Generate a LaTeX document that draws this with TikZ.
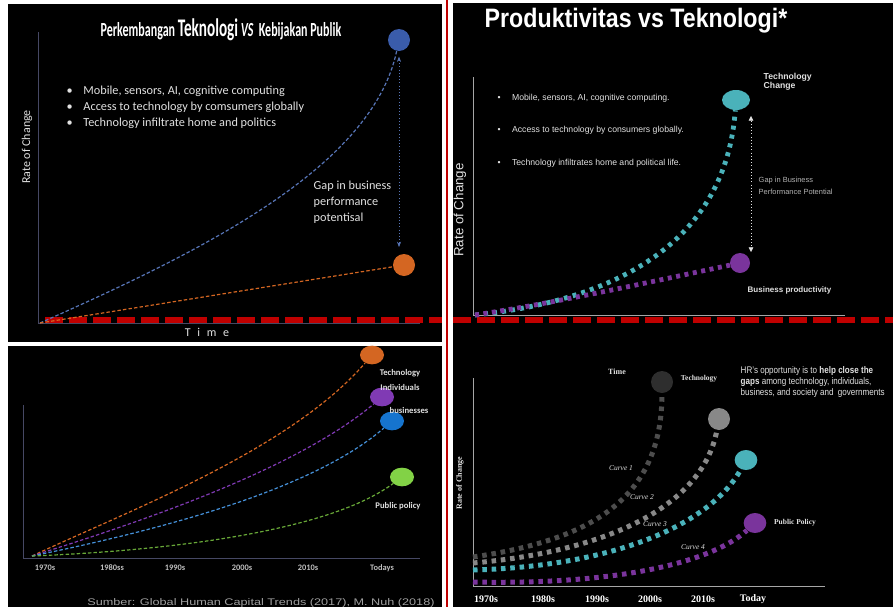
\documentclass[tikz,border=0pt]{standalone}
\usepackage{fontspec}
\setmainfont{Liberation Sans}
\newfontfamily\calfont{Carlito}
\newfontfamily\timesfont{Liberation Serif}
\usetikzlibrary{arrows.meta,shapes.geometric}
\definecolor{Red_line}{RGB}{192, 0, 0}
\definecolor{Axis_line}{RGB}{70, 72, 100}
\definecolor{Text_light}{RGB}{225, 225, 225}
\definecolor{Tech_blue}{RGB}{58, 92, 170}
\definecolor{Policy_orange}{RGB}{212, 102, 34}
\definecolor{Tech_teal}{RGB}{74, 178, 186}
\definecolor{Prod_purple}{RGB}{122, 52, 156}
\definecolor{Ind_purple}{RGB}{128, 58, 180}
\definecolor{Bus_blue}{RGB}{22, 116, 206}
\definecolor{Pol_green}{RGB}{130, 210, 70}
\definecolor{Curve_dark}{RGB}{46, 46, 46}
\definecolor{Curve_gray}{RGB}{136, 136, 136}

\tikzset{
  dot/.style={circle, inner sep=0pt, minimum size=16.5pt},
  oval/.style={ellipse, inner sep=0pt, minimum width=18pt, minimum height=14pt},
  thin dash/.style={line width=0.9pt, dash pattern=on 2.6pt off 1.6pt},
  square dots/.style={line width=3.75pt, dash pattern=on 3.4pt off 3.6pt},
}

\begin{document}
\begin{tikzpicture}[x=0.75pt, y=-0.75pt]
    \useasboundingbox (0,0) rectangle (893,607);
    \clip (0,0) rectangle (893,607);

    %% Background
    \fill[black] (8,4) rectangle (442,342);
    \fill[black] (8,346) rectangle (442,607);
    \fill[black] (453,3) rectangle (893,607);

    %% Separators
    \draw[Red_line, line width=1.6pt] (447,0) -- (447,607);
    \draw[Red_line, line width=4.5pt, dash pattern=on 13.5pt off 4.5pt] (45,320) -- (442,320);
    \draw[Red_line, line width=4.5pt, dash pattern=on 13.5pt off 4.5pt] (453,320) -- (893,320);

    %% Top left: Perkembangan Teknologi VS Kebijakan Publik
    \node[text=white] (title_tl) at (221,30)
      {\calfont\bfseries\scalebox{0.6}[1]{\fontsize{15}{15}\selectfont Perkembangan {\fontsize{19}{19}\selectfont Teknologi} \itshape VS\upshape\ \ Kebijakan Publik}};
    \draw[Axis_line] (38,32) -- (38,323) -- (420,323);
    \node[rotate=90, text=Text_light, font=\calfont\fontsize{9}{9}\selectfont] (rate_tl) at (27,147) {Rate of Change};
    \node[text=Text_light, font=\calfont\fontsize{9}{9}\selectfont] (time_tl) at (207,332) {T\hspace{5pt}i\hspace{5pt}m\hspace{5pt}e};
    \node[anchor=west, align=left, text=Text_light, font=\calfont\fontsize{9.2}{12}\selectfont] (list_tl) at (62,107)
      {\textbullet\hspace{8pt}Mobile, sensors, AI, cognitive computing\\
       \textbullet\hspace{8pt}Access to technology by comsumers globally\\
       \textbullet\hspace{8pt}Technology infiltrate home and politics};
    \node[anchor=west, align=left, text=Text_light, font=\calfont\fontsize{9.2}{12}\selectfont] (gap_tl) at (309,202)
      {Gap in business\\performance\\potentisal};

    \coordinate (o_tl) at (40,323);
    \node[dot, fill=Tech_blue] (tech_tl) at (399,40) {};
    \node[dot, fill=Policy_orange] (pol_tl) at (404,265) {};
    \draw[Tech_blue!85!white, thin dash] (o_tl) .. controls (200,252) and (372,168) .. (tech_tl);
    \draw[Policy_orange, thin dash] (o_tl) -- (pol_tl);
    \draw[Tech_blue!85!white, dotted, {Stealth[length=4pt,width=3pt]}-{Stealth[length=4pt,width=3pt]}]
      ([yshift=-4pt]tech_tl.south) -- ([yshift=5pt]tech_tl.south |- pol_tl.north);

    %% Top right: Produktivitas vs Teknologi*
    \node[text=white] (title_tr) at (636,21)
      {\bfseries\scalebox{0.87}[1]{\fontsize{20}{20}\selectfont Produktivitas vs Teknologi*}};
    \draw[gray!70] (473,77) -- (473,315) -- (845,315);
    \node[rotate=90, text=Text_light, font=\fontsize{10}{10}\selectfont] (rate_tr) at (460,210) {Rate of Change};
    \foreach \y/\txt [count=\i] in {98/{Mobile, sensors, AI, cognitive computing.},
        130/{Access to technology by consumers globally.},
        163/{Technology infiltrates home and political life.}}
      \node[anchor=west, text=Text_light, font=\fontsize{6.5}{6.5}\selectfont] (item_tr\i) at (493,\y)
        {\textbullet\hspace{8.5pt}\txt};

    \coordinate (o_tr) at (475,315);
    \node[ellipse, inner sep=0pt, minimum width=21pt, minimum height=15pt, fill=Tech_teal] (tech_tr) at (736,100) {};
    \node[dot, minimum size=15pt, fill=Prod_purple] (prod_tr) at (740,263) {};
    \draw[Tech_teal, line width=3.6pt, dash pattern=on 3pt off 3.8pt] (o_tr) .. controls (620,300) and (726,240) .. (tech_tr);
    \draw[Prod_purple, line width=3.6pt, dash pattern=on 3pt off 3.4pt] (o_tr) .. controls (560,302) and (650,282) .. (prod_tr);
    \node[anchor=west, align=left, text=Text_light, font=\bfseries\fontsize{6.5}{6.6}\selectfont] (techlbl_tr) at (759,82)
      {Technology\\Change};
    \node[anchor=west, text=Text_light, font=\bfseries\fontsize{6}{6}\selectfont] (prodlbl_tr) at (743,290) {Business productivity};
    \coordinate (gaptop_tr) at (751,116);
    \coordinate (gapbot_tr) at (751,252);
    \draw[Text_light, dotted, {Triangle[length=3.5pt,width=3.5pt]}-{Triangle[length=3.5pt,width=3.5pt]}] (gaptop_tr) -- (gapbot_tr);
    \node[anchor=west, align=left, text=gray!60!white, font=\fontsize{5.6}{9}\selectfont] (gap_tr) at (754,186)
      {Gap in Business\\Performance Potential};

    %% Bottom left: four curves
    \draw[Axis_line] (23,405) -- (23,558) -- (420,558);
    \coordinate (o_bl) at (32,556);
    \node[oval, fill=Policy_orange] (tech_bl) at (372,355) {};
    \node[oval, fill=Ind_purple] (ind_bl) at (382,397) {};
    \node[oval, fill=Bus_blue] (bus_bl) at (392,421) {};
    \node[oval, fill=Pol_green] (pol_bl) at (402,477) {};
    \draw[Policy_orange, thin dash] (o_bl) .. controls (130,510) and (290,450) .. (tech_bl);
    \draw[Ind_purple, thin dash] (o_bl) .. controls (140,522) and (295,470) .. (ind_bl);
    \draw[Bus_blue!80!white, thin dash] (o_bl) .. controls (150,532) and (310,492) .. (bus_bl);
    \draw[Pol_green!80!black, thin dash] (o_bl) .. controls (180,550) and (330,530) .. (pol_bl);
    \node[text=Text_light, font=\calfont\bfseries\fontsize{6.5}{6.5}\selectfont] (techlbl_bl) at (400,373) {Technology};
    \node[text=Text_light, font=\calfont\bfseries\fontsize{6.5}{6.5}\selectfont] (indlbl_bl) at (400,387) {Individuals};
    \node[text=Text_light, font=\calfont\bfseries\fontsize{6.5}{6.5}\selectfont] (buslbl_bl) at (409,410) {businesses};
    \node[text=Text_light, font=\calfont\bfseries\fontsize{6.5}{6.5}\selectfont] (pollbl_bl) at (398,506) {Public policy};
    \foreach \x/\yr in {45/1970s, 112/1980ss, 175/1990s, 242/2000s, 308/2010s, 382/Todays}
      \node[text=gray!50!white, font=\calfont\bfseries\fontsize{6.3}{6.3}\selectfont] (yr_bl\yr) at (\x,568) {\yr};
    \node[text=gray!75!white, font=\fontsize{7.2}{7.2}\selectfont] (source_bl) at (261,603)
      {\scalebox{1.32}[1]{Sumber: Global Human Capital Trends (2017), M. Nuh (2018)}};

    %% Bottom right: Curve 1 to Curve 4
    \draw[gray!70] (473,378) -- (473,586) -- (825,586);
    \node[rotate=90, text=Text_light, font=\timesfont\bfseries\fontsize{6}{6}\selectfont] (rate_br) at (460,483) {Rate of Change};
    \node[text=Text_light, font=\timesfont\bfseries\fontsize{6}{6}\selectfont] (time_br) at (617,372) {Time};
    \node[text=Text_light, font=\timesfont\bfseries\fontsize{5.6}{5.6}\selectfont] (techlbl_br) at (699,379) {Technology};
    \node[anchor=west, align=left, text=Text_light, font=\fontsize{7.2}{8.3}\selectfont] (hr_br) at (736,382)
      {\scalebox{0.84}[1]{HR's opportunity is to \textbf{help close the}}\\
       \scalebox{0.84}[1]{\textbf{gaps} among technology, individuals,}\\
       \scalebox{0.84}[1]{business, and society and\ \ governments}};

    \coordinate (o1_br) at (473,557);
    \coordinate (o2_br) at (473,563);
    \coordinate (o3_br) at (473,570);
    \coordinate (o4_br) at (473,582);
    \node[dot, fill=Curve_dark] (c1_br) at (662,382) {};
    \node[dot, fill=Curve_gray] (c2_br) at (719,419) {};
    \node[oval, minimum width=17pt, minimum height=15pt, fill=Tech_teal] (c3_br) at (746,460) {};
    \node[oval, minimum width=17pt, minimum height=15pt, fill=Prod_purple] (c4_br) at (755,523) {};
    \draw[Curve_dark!85!white, square dots] (o1_br) .. controls (590,540) and (662,500) .. (c1_br);
    \draw[Curve_gray, square dots] (o2_br) .. controls (600,552) and (702,510) .. (c2_br);
    \draw[Tech_teal, square dots] (o3_br) .. controls (620,566) and (712,522) .. (c3_br);
    \draw[Prod_purple, square dots] (o4_br) .. controls (620,585) and (712,562) .. (c4_br);
    \node[text=Text_light, font=\timesfont\itshape\fontsize{5.6}{5.6}\selectfont] (cv1_br) at (621,468) {Curve 1};
    \node[text=Text_light, font=\timesfont\itshape\fontsize{5.6}{5.6}\selectfont] (cv2_br) at (642,497) {Curve 2};
    \node[text=Text_light, font=\timesfont\itshape\fontsize{5.6}{5.6}\selectfont] (cv3_br) at (655,524) {Curve 3};
    \node[text=Text_light, font=\timesfont\itshape\fontsize{5.6}{5.6}\selectfont] (cv4_br) at (693,547) {Curve 4};
    \node[text=Text_light, font=\timesfont\bfseries\fontsize{5.6}{5.6}\selectfont] (pollbl_br) at (795,523) {Public Policy};
    \foreach \x/\yr in {486/1970s, 543/1980s, 597/1990s, 650/2000s, 703/2010s, 753/Today}
      \node[text=white, font=\timesfont\bfseries\fontsize{7.5}{7.5}\selectfont] (yr_br\yr) at (\x,599) {\yr};

\end{tikzpicture}
\end{document}
